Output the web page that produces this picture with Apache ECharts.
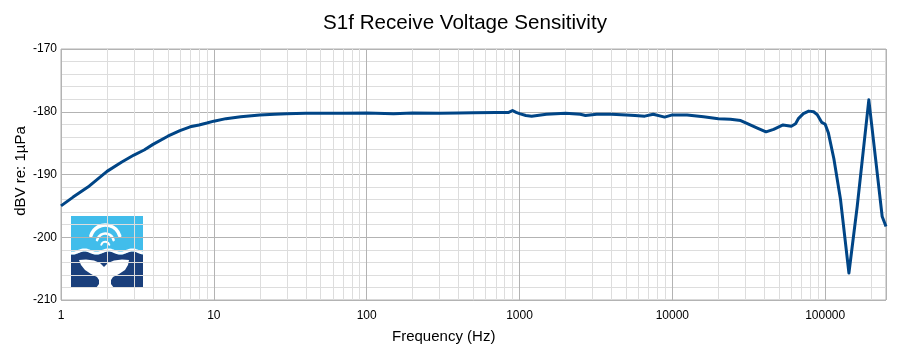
<!DOCTYPE html>
<html>
<head>
<meta charset="utf-8">
<script src="https://cdn.jsdelivr.net/npm/echarts@6/dist/echarts.min.js"></script>
<style>html,body{margin:0;padding:0;background:#fff;}#c{width:907px;height:349px;}</style>
</head>
<body>
<div id="c"></div>
<script>
// Frequency (Hz)
const freq = [1, 1.2, 1.5, 2, 2.5, 3, 3.5, 4, 5, 6, 7, 8, 9, 10, 12, 15, 20, 25, 30, 40, 50, 70,
  100, 150, 200, 300, 400, 500, 700, 850, 900, 950, 1000, 1100, 1200, 1500, 2000, 2500, 2700, 3200,
  4000, 5000, 5700, 6600, 7500, 8900, 10000, 12500, 16000, 20000, 24000, 28000, 31000, 36000, 41000,
  46000, 53000, 60000, 64000, 67000, 72000, 78000, 84000, 89000, 95000, 100000, 105000, 114000,
  126000, 143000, 162000, 193000, 213000, 236000, 250000];
// Sensitivity dBV re: 1µPa
const sens = [-195.0, -193.6, -192.0, -189.5, -188.0, -186.9, -186.1, -185.2, -183.9, -183.0, -182.4, -182.1, -181.8, -181.5, -181.1, -180.8, -180.5, -180.4, -180.3, -180.25, -180.25, -180.25,
  -180.2, -180.3, -180.2, -180.25, -180.2, -180.15, -180.1, -180.1, -179.8, -180.1, -180.3, -180.6, -180.7, -180.4, -180.25, -180.4, -180.6, -180.4,
  -180.4, -180.5, -180.6, -180.7, -180.4, -180.85, -180.5, -180.5, -180.8, -181.1, -181.2, -181.4, -181.9, -182.6, -183.2,
  -182.8, -182.1, -182.3, -181.9, -181.05, -180.3, -179.9, -180.0, -180.5, -181.7, -182.0, -183.4, -187.5,
  -194.0, -205.7, -195.1, -178.1, -187.2, -196.7, -198.3];
const xTicks = [1, 10, 100, 1000, 10000, 100000];
const xMax = 250000;
const yTicks = [-210, -200, -190, -180, -170];
const minorMults = [2, 3, 4, 5, 6, 7, 8, 9];

const minorX = [];
xTicks.forEach(d => minorMults.forEach(m => { if (d * m <= xMax) minorX.push({ xAxis: d * m }); }));

const chart = echarts.init(document.getElementById('c'), null, { renderer: 'canvas' });

// logo helpers (decoration)
const waveLine = [];
for (let x = 71; x <= 143; x += 1) waveLine.push([x, 251.5 + 1.6 * Math.sin((x - 71) / 24 * 2 * Math.PI + 1.2)]);
const darkPoly = waveLine.map(p => [p[0], p[1] + 1.5]).concat([[143, 288], [71, 288]]);
const tail = [[79, 260], [86, 259.5], [94, 260.5], [100, 263], [104, 267], [108, 263], [114, 260.5], [122, 259.5], [129, 260],
  [128, 265], [125, 270], [119, 274], [113, 277], [111, 280], [111, 284], [114, 288], [96, 288], [99, 284], [99, 280],
  [97, 277], [91, 274], [85, 270], [81, 265]];

const font = '"Liberation Sans", Arial, sans-serif';

chart.setOption({
  animation: false,
  backgroundColor: '#fff',
  grid: { left: 61, top: 49, width: 825, height: 251, show: true, borderColor: '#b3b3b3', borderWidth: 1, backgroundColor: 'transparent' },
  xAxis: {
    type: 'log', logBase: 10, min: xTicks[0], max: xMax,
    axisLine: { show: false }, axisTick: { show: false },
    axisLabel: { color: '#000', fontSize: 12, fontFamily: font, margin: 10, showMaxLabel: false,
      formatter: v => (xTicks.indexOf(Math.round(v)) >= 0 ? String(Math.round(v)) : '') },
    splitLine: { show: true, lineStyle: { color: '#b3b3b3', width: 1 } }
  },
  yAxis: {
    type: 'value', min: yTicks[0], max: yTicks[yTicks.length - 1], interval: 10,
    axisLine: { show: false }, axisTick: { show: false },
    axisLabel: { color: '#000', fontSize: 12, fontFamily: font, margin: 4 },
    splitLine: { show: true, lineStyle: { color: '#b3b3b3', width: 1 } },
    minorTick: { show: false, splitNumber: 5 },
    minorSplitLine: { show: true, lineStyle: { color: '#dddddd', width: 1 } }
  },
  graphic: [
    { type: 'text', x: 465, y: 23.5, style: { text: 'S1f Receive Voltage Sensitivity', font: '20.6px ' + font, fill: '#000', align: 'center', verticalAlign: 'middle' } },
    { type: 'text', x: 443.7, y: 337, style: { text: 'Frequency (Hz)', font: '15px ' + font, fill: '#000', align: 'center', verticalAlign: 'middle' } },
    { type: 'text', x: 20.5, y: 171, rotation: Math.PI / 2, style: { text: 'dBV re: 1µPa', font: '15px ' + font, fill: '#000', align: 'center', verticalAlign: 'middle' } },
    { type: 'group', z: 50, children: [
      { type: 'rect', shape: { x: 66, y: 211, width: 81, height: 80 }, style: { fill: '#fff' } },
      { type: 'rect', shape: { x: 71, y: 216, width: 72, height: 40 }, style: { fill: '#41bdeb' } },
      { type: 'polygon', shape: { points: darkPoly }, style: { fill: '#1a3f7b' } },
      { type: 'polyline', shape: { points: waveLine }, style: { stroke: '#fff', lineWidth: 3, fill: null } },
      { type: 'arc', shape: { cx: 105.3, cy: 240, r: 15, startAngle: Math.PI * 1.09, endAngle: Math.PI * 1.91 }, style: { stroke: '#fff', lineWidth: 3.5, fill: null, lineCap: 'round' } },
      { type: 'arc', shape: { cx: 105.3, cy: 242, r: 8.5, startAngle: Math.PI * 1.07, endAngle: Math.PI * 1.93 }, style: { stroke: '#fff', lineWidth: 2.5, fill: null, lineCap: 'round' } },
      { type: 'arc', shape: { cx: 105.3, cy: 246, r: 4.2, startAngle: Math.PI * 1.1, endAngle: Math.PI * 1.9 }, style: { stroke: '#fff', lineWidth: 2, fill: null, lineCap: 'round' } },
      { type: 'polygon', shape: { points: tail }, style: { fill: '#fff' } }
    ] }
  ],
  series: [
    {
      type: 'line', data: [], silent: true, z: 1,
      markLine: { silent: true, symbol: ['none', 'none'], label: { show: false }, animation: false,
        lineStyle: { color: '#dddddd', width: 1, type: 'solid' }, data: minorX }
    },
    {
      type: 'line', z: 10, showSymbol: false, symbol: 'none', smooth: false,
      data: freq.map((f, i) => [f, sens[i]]),
      lineStyle: { color: '#004586', width: 3, join: 'round' }
    }
  ]
});
</script>
</body>
</html>
